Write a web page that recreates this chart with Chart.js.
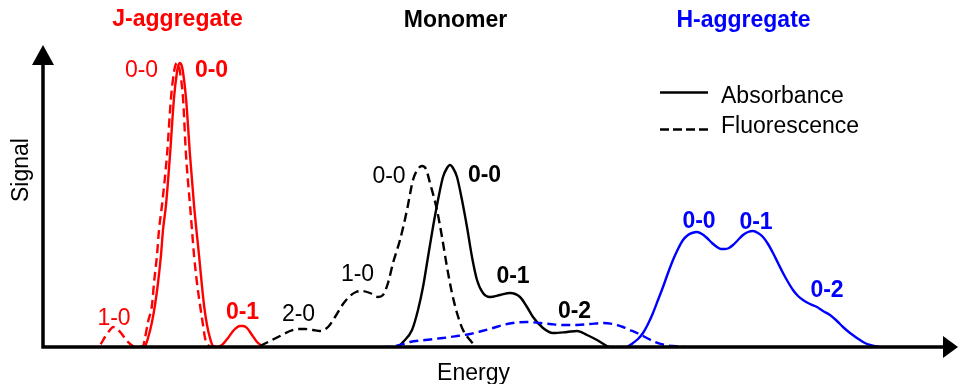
<!DOCTYPE html>
<html>
<head>
<meta charset="utf-8">
<script src="https://cdn.jsdelivr.net/npm/chart.js@4/dist/chart.umd.min.js"></script>
<style>
  html, body { margin: 0; padding: 0; background: #ffffff; }
  #wrap { width: 958px; height: 384px; }
</style>
</head>
<body>
<div id="wrap"><canvas id="spectra" width="958" height="384"></canvas></div>
<script>
// Schematic absorption / fluorescence spectra (arbitrary energy and signal units)

// J-aggregate absorbance
const energyJAbs = [17, 97, 102, 105, 109, 112, 115, 118, 120, 123, 127, 131, 134, 135.5, 137, 138.5, 140, 143, 147, 151, 156, 161, 164, 167, 170, 174, 179, 185, 191, 197, 200, 204, 209, 214, 219, 223];
const signalJAbs = [0, 0, 2, 10, 26, 43, 65, 93, 118, 143, 193, 250, 276, 283, 285, 283, 276, 250, 193, 143, 93, 43, 23, 10, 2, 1, 3, 10, 18, 22, 22, 20, 13, 6, 2, 0];

// J-aggregate fluorescence
const energyJFl = [17, 52, 57, 62, 67, 70, 73, 78, 84, 90, 96, 100, 102, 105, 109, 111, 114, 116, 119, 124, 128, 131, 132.5, 134, 135.5, 137, 140, 143, 147, 149, 151, 154, 157, 160, 162, 165, 169, 217];
const signalJFl = [0, 0, 3, 11, 18, 21, 20, 15, 7, 2, 1, 2, 10, 26, 43, 65, 93, 118, 143, 193, 250, 276, 283, 285, 283, 276, 250, 193, 143, 118, 93, 65, 43, 23, 10, 3, 0, 0];

// Monomer absorbance
const energyMAbs = [354, 360, 369, 375, 380, 385, 390, 395, 400, 404, 407, 410, 414, 419, 424, 429, 434, 440, 447, 457, 467, 477, 484, 490, 500, 510, 524, 534, 544, 554, 564, 572, 607];
const signalMAbs = [0, 6, 18, 38, 61, 91, 121, 148, 171, 180, 183, 180, 171, 148, 121, 91, 68, 55, 51, 53, 55, 51, 41, 31, 20, 15, 16, 17, 13, 8, 2, 0, 0];

// Monomer fluorescence
const energyMFl = [217, 227, 237, 247, 255, 262, 270, 277, 285, 292, 300, 307, 313, 319, 327, 335, 340, 345, 350, 357, 364, 370, 375, 379, 383, 387, 394, 399, 404, 409, 414, 420, 427, 434, 442];
const signalMFl = [2, 7, 12, 17, 19, 19, 18, 17, 21, 31, 44, 52, 56, 57, 55, 51, 53, 65, 85, 108, 138, 168, 179, 182, 179, 165, 138, 111, 81, 55, 35, 18, 8, 1, 0];

// H-aggregate absorbance
const energyHAbs = [527, 577, 584, 590, 595, 600, 605, 610, 615, 620, 625, 630, 635, 640, 645, 649, 654, 659, 664, 669, 674, 678, 682, 686, 690, 695, 700, 705, 710, 715, 720, 725, 730, 735, 740, 745, 750, 755, 760, 767, 774, 780, 787, 794, 800, 807, 814, 820, 827, 837, 847, 900];
const signalHAbs = [0, 0, 1, 5, 9, 15, 24, 35, 48, 61, 75, 88, 99, 108, 113, 115, 116, 114, 110, 105, 101, 99, 99, 100, 103, 108, 113, 116, 117, 115, 111, 104, 95, 85, 75, 66, 58, 52, 48, 44, 41, 37, 33, 27, 21, 15, 10, 6, 3, 1, 0, 0];

// H-aggregate fluorescence
const energyHFl = [227, 344, 357, 367, 382, 400, 414, 427, 439, 450, 460, 470, 484, 497, 507, 520, 534, 547, 560, 570, 580, 587, 594, 602, 612, 622, 630, 642, 657, 727];
const signalHFl = [0, 1, 3, 6, 8, 10, 12, 14, 17, 20, 23, 25, 26, 25, 24, 23, 23, 24, 25, 24, 21, 18, 15, 11, 6, 3, 2, 1, 0, 0];

// Vibronic band labels: [text, energy, signal at baseline of text]
const bandLabels = [
  ['0-0', 98.5, 271, 'red', false],
  ['0-0', 168.5, 271, 'red', true],
  ['1-0', 71, 23, 'red', false],
  ['0-1', 199.5, 29, 'red', true],
  ['2-0', 255.5, 27, 'black', false],
  ['1-0', 314.5, 67, 'black', false],
  ['0-0', 346, 165, 'black', false],
  ['0-0', 441.5, 166, 'black', true],
  ['0-1', 470, 65, 'black', true],
  ['0-2', 531.5, 30, 'black', true],
  ['0-0', 656, 120, 'blue', true],
  ['0-1', 713, 119, 'blue', true],
  ['0-2', 784, 51, 'blue', true]
];

// Group headings above the spectra
const groupTitles = [
  ['J-aggregate', 134.5, 322, 'red'],
  ['Monomer', 412.5, 321, 'black'],
  ['H-aggregate', 700.5, 321, 'blue']
];

const FONT = '"Liberation Sans", Arial, Helvetica, sans-serif';
const RED = '#ff0000', BLUE = '#0000ff', BLACK = '#000000';
const colorMap = { red: RED, blue: BLUE, black: BLACK };
const DASH = [9, 5];

function pts(xs, ys) {
  return xs.map((x, i) => ({ x: x, y: ys[i] }));
}

function series(label, xs, ys, color, dashed) {
  return {
    label: label,
    data: pts(xs, ys),
    borderColor: color,
    backgroundColor: color,
    borderWidth: 2.4,
    borderDash: dashed ? DASH : [],
    pointRadius: 0,
    fill: false,
    cubicInterpolationMode: 'monotone'
  };
}

// Axes with arrowheads, labels and a line-style key
const decorations = {
  id: 'decorations',
  afterDatasetsDraw(chart) {
    const ctx = chart.ctx;
    const area = chart.chartArea;
    const x0 = area.left, y0 = area.bottom - 1;

    ctx.save();
    ctx.strokeStyle = BLACK;
    ctx.fillStyle = BLACK;
    ctx.lineWidth = 3.5;
    ctx.setLineDash([]);
    ctx.beginPath();
    ctx.moveTo(x0, y0 + 1.5);
    ctx.lineTo(x0, 60);
    ctx.moveTo(x0 - 1.5, y0);
    ctx.lineTo(945, y0);
    ctx.stroke();
    // vertical arrowhead
    ctx.beginPath();
    ctx.moveTo(x0, 45);
    ctx.lineTo(x0 - 11, 65);
    ctx.lineTo(x0 + 11, 65);
    ctx.closePath();
    ctx.fill();
    // horizontal arrowhead
    ctx.beginPath();
    ctx.moveTo(958, y0);
    ctx.lineTo(943, y0 - 11);
    ctx.lineTo(943, y0 + 11);
    ctx.closePath();
    ctx.fill();
    ctx.restore();
  },
  afterDraw(chart) {
    const ctx = chart.ctx;
    const xs = chart.scales.x, ys = chart.scales.y;
    ctx.save();
    ctx.textAlign = 'center';
    ctx.textBaseline = 'alphabetic';

    groupTitles.forEach(([t, e, s, c]) => {
      ctx.font = 'bold 23px ' + FONT;
      ctx.fillStyle = colorMap[c];
      ctx.fillText(t, xs.getPixelForValue(e), ys.getPixelForValue(s));
    });

    bandLabels.forEach(([t, e, s, c, b]) => {
      ctx.font = (b ? 'bold ' : '') + '23px ' + FONT;
      ctx.fillStyle = colorMap[c];
      ctx.fillText(t, xs.getPixelForValue(e), ys.getPixelForValue(s));
    });

    // axis titles
    ctx.font = '23px ' + FONT;
    ctx.fillStyle = BLACK;
    ctx.fillText('Energy', 473.5, 380);
    ctx.save();
    ctx.translate(28, 170);
    ctx.rotate(-Math.PI / 2);
    ctx.fillText('Signal', 0, 0);
    ctx.restore();

    // line-style key
    ctx.strokeStyle = BLACK;
    ctx.lineWidth = 2.4;
    ctx.beginPath();
    ctx.setLineDash([]);
    ctx.moveTo(660, 92.5);
    ctx.lineTo(708, 92.5);
    ctx.stroke();
    ctx.beginPath();
    ctx.setLineDash([9, 4]);
    ctx.moveTo(660, 129.5);
    ctx.lineTo(708, 129.5);
    ctx.stroke();
    ctx.setLineDash([]);
    ctx.textAlign = 'left';
    ctx.font = '23px ' + FONT;
    ctx.fillText('Absorbance', 721, 103);
    ctx.fillText('Fluorescence', 721, 133);
    ctx.restore();
  }
};

new Chart(document.getElementById('spectra'), {
  type: 'line',
  data: {
    datasets: [
      series('H fluorescence', energyHFl, signalHFl, BLUE, true),
      series('H absorbance', energyHAbs, signalHAbs, BLUE, false),
      series('Monomer fluorescence', energyMFl, signalMFl, BLACK, true),
      series('Monomer absorbance', energyMAbs, signalMAbs, BLACK, false),
      series('J fluorescence', energyJFl, signalJFl, RED, true),
      series('J absorbance', energyJAbs, signalJAbs, RED, false)
    ]
  },
  options: {
    responsive: false,
    animation: false,
    events: [],
    layout: { padding: { left: 43, right: 15, top: 48, bottom: 36 } },
    scales: {
      x: { type: 'linear', min: 0, max: 900, display: false },
      y: { type: 'linear', min: 0, max: 300, display: false }
    },
    plugins: {
      legend: { display: false },
      tooltip: { enabled: false },
      title: { display: false }
    }
  },
  plugins: [decorations]
});
</script>
</body>
</html>
